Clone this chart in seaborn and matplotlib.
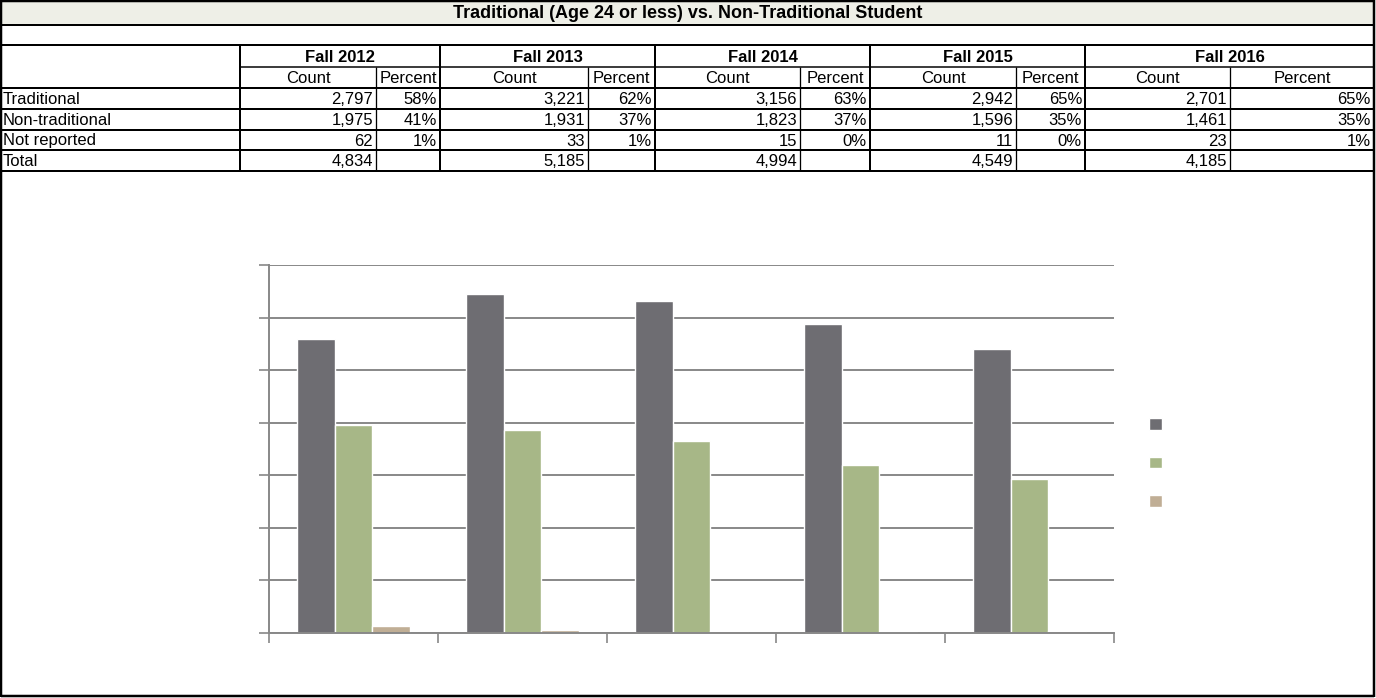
import numpy as np
import pandas as pd
import matplotlib
matplotlib.use("Agg")
import matplotlib.pyplot as plt
import seaborn as sns
from matplotlib.lines import Line2D
from matplotlib.patches import Rectangle

# Data
terms = ["Fall 2012", "Fall 2013", "Fall 2014", "Fall 2015", "Fall 2016"]
groups = ["Traditional", "Non-traditional", "Not reported"]
traditional = [2797, 3221, 3156, 2942, 2701]
non_traditional = [1975, 1931, 1823, 1596, 1461]
not_reported = [62, 33, 15, 11, 23]
total = [4834, 5185, 4994, 4549, 4185]
pct_traditional = ["58%", "62%", "63%", "65%", "65%"]
pct_non_traditional = ["41%", "37%", "37%", "35%", "35%"]
pct_not_reported = ["1%", "1%", "0%", "0%", "1%"]

colors = ["#6e6d72", "#a7b787", "#c0ae95"]

df = pd.DataFrame({
    "Term": terms * 3,
    "Group": [g for g in groups for _ in terms],
    "Count": traditional + non_traditional + not_reported,
})

sns.set_theme(style="white")
plt.rcParams['font.family'] = ['Liberation Sans', 'DejaVu Sans']

W, H = 1376, 698
fig = plt.figure(figsize=(W / 100, H / 100), dpi=100)


def fx(x):
    return x / W


def fy(y):
    return 1 - y / H


def hline(y, x0, x1, lw=2):
    fig.add_artist(Line2D([fx(x0), fx(x1)], [fy(y), fy(y)], color="black",
                          lw=lw * 0.72, solid_capstyle="butt"))


def vline(x, y0, y1, lw=2):
    fig.add_artist(Line2D([fx(x), fx(x)], [fy(y0), fy(y1)], color="black",
                          lw=lw * 0.72, solid_capstyle="butt"))


def cell_text(x, y, s, ha="center", bold=False, size=12):
    fig.text(fx(x), fy(y), s, ha=ha, va="center", fontsize=size,
             fontweight="bold" if bold else "normal", color="black")


# --- table layout (pixels) ---
left, right = 1, 1374
rows = [1, 25, 45, 67, 88, 109, 130, 150, 171]
# column borders: label | count | percent | count | percent ...
cols = [240, 376, 440, 588, 655, 800, 870, 1016, 1085, 1230, right]

fig.add_artist(Rectangle((fx(left), fy(rows[1])), fx(right) - fx(left), fy(rows[0]) - fy(rows[1]),
                         facecolor="#eeefe7", edgecolor="none"))
cell_text((left + right) / 2, (rows[0] + rows[1]) / 2 + 1,
          "Traditional (Age 24 or less) vs. Non-Traditional Student", bold=True, size=13)

# outer border
hline(left, left, right, 2.5)
hline(696, left, right, 2.5)
vline(left, 0, 697, 2.5)
vline(right, 0, 697, 2.5)

for y in [rows[1], rows[2], rows[4], rows[5], rows[6], rows[7], rows[8]]:
    hline(y, left, right)
hline(rows[3], cols[0], right, 1.5)

vline(cols[0], rows[2], rows[8])
for i in range(5):
    x0, xm, x1 = cols[2 * i], cols[2 * i + 1], cols[2 * i + 2]
    if i > 0:
        vline(x0, rows[2], rows[8])
    vline(xm, rows[3], rows[8], 1.3)
    cell_text((x0 + x1) / 2, (rows[2] + rows[3]) / 2 + 1, terms[i], bold=True, size=12)
    cell_text((x0 + xm) / 2, (rows[3] + rows[4]) / 2 + 1, "Count")
    cell_text((xm + x1) / 2, (rows[3] + rows[4]) / 2 + 1, "Percent")

table_rows = [
    ("Traditional", traditional, pct_traditional),
    ("Non-traditional", non_traditional, pct_non_traditional),
    ("Not reported", not_reported, pct_not_reported),
    ("Total", total, [""] * 5),
]
for r, (name, counts, pcts) in enumerate(table_rows):
    yc = (rows[4 + r] + rows[5 + r]) / 2 + 1
    cell_text(left + 2, yc, name, ha="left")
    for i in range(5):
        xm, x1 = cols[2 * i + 1], cols[2 * i + 2]
        cell_text(xm - 3, yc, f"{counts[i]:,}", ha="right")
        if pcts[i]:
            cell_text(x1 - 3, yc, pcts[i], ha="right")

# --- chart ---
ax = fig.add_axes([fx(269), fy(633), (1114 - 269) / W, (633 - 265) / H])
sns.barplot(data=df, x="Term", y="Count", hue="Group", palette=colors,
            width=0.664, saturation=1, ax=ax)
ax.set_xlim(-0.5, 4.5)
ax.set_ylim(0, 3500)
ax.set_yticks(np.arange(0, 3501, 500))
ax.set_xticks(np.arange(-0.5, 5, 1), minor=True)
ax.set_axisbelow(True)
ax.yaxis.grid(True, color="#888888", lw=1.4)
ax.set_xlabel("")
ax.set_ylabel("")
ax.tick_params(axis="x", which="major", length=0, labelbottom=False)
ax.tick_params(axis="x", which="minor", length=7, width=1.2, color="#888888", bottom=True)
ax.tick_params(axis="y", length=7, width=1.2, color="#888888", left=True, labelleft=False)
for s in ["top", "right"]:
    ax.spines[s].set_visible(False)
for s in ["left", "bottom"]:
    ax.spines[s].set_color("#888888")
    ax.spines[s].set_linewidth(1.4)

handles, labels = ax.get_legend_handles_labels()
ax.legend(handles, labels, loc="upper left", bbox_to_anchor=(fx(1149), fy(418)),
          bbox_transform=fig.transFigure, frameon=False, borderpad=0, borderaxespad=0,
          handlelength=0.9, handleheight=0.9, handletextpad=0.8, labelspacing=1.76,
          fontsize=10, labelcolor="white")

fig.savefig("out.png", dpi=100)
